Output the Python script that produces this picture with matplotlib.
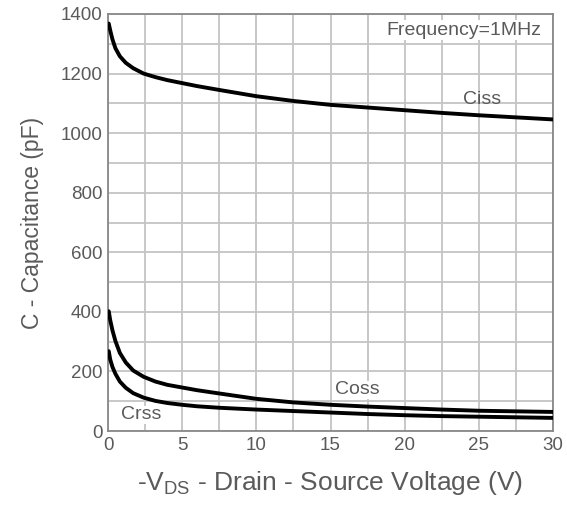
import numpy as np
import matplotlib
matplotlib.use('Agg')
import matplotlib.pyplot as plt

# values (V, pF)
vds = [0.05, 0.15, 0.3, 0.5, 0.8, 1.2, 1.7, 2.4, 3.2, 4.0, 5, 6, 7.5, 10, 12.5, 15, 17.5, 20, 22.5, 25, 27.5, 30]
ciss = [1368, 1345, 1315, 1285, 1258, 1236, 1218, 1200, 1188, 1178, 1168, 1158, 1145, 1124, 1108, 1095, 1086, 1077, 1068, 1060, 1053, 1046]
coss = [402, 372, 338, 302, 262, 230, 203, 182, 166, 155, 146, 137, 126, 108, 96, 88, 82, 77, 72, 68, 66, 64]
crss = [268, 240, 215, 192, 166, 145, 127, 112, 101, 94, 88, 83, 78, 72, 67, 62, 57, 53, 50, 48, 46, 44]

x_ticks = [0, 5, 10, 15, 20, 25, 30]
y_ticks = [0, 200, 400, 600, 800, 1000, 1200, 1400]

plt.rcParams['font.family'] = ['Liberation Sans', 'DejaVu Sans']
plt.rcParams['mathtext.fontset'] = 'custom'
plt.rcParams['mathtext.rm'] = 'Liberation Sans'

gray = '#5a5a5a'
fig = plt.figure(figsize=(5.67, 5.07), dpi=100)
ax = fig.add_axes([108 / 567, 1 - 431 / 507, 445 / 567, 417 / 507])

for y in (ciss, coss, crss):
    ax.plot(vds, y, color='black', lw=2.8, solid_capstyle='round', zorder=3)

ax.set_xlim(0, 30)
ax.set_ylim(0, 1400)
ax.set_xticks(x_ticks)
ax.set_yticks(y_ticks)
ax.set_xticks(np.arange(0, 30.1, 2.5), minor=True)
ax.set_yticks(np.arange(0, 1401, 100), minor=True)
ax.grid(True, which='both', color='#c4c4c4', lw=1.3)
ax.tick_params(which='both', length=0, labelsize=13.5, colors=gray, pad=4)
for s in ax.spines.values():
    s.set_color('#888888')
    s.set_linewidth(1.3)

ax.text(29.2, 1346, 'Frequency=1MHz', ha='right', va='center', fontsize=14, color=gray,
        bbox=dict(facecolor='white', edgecolor='none', pad=1))
ax.text(23.9, 1112, 'Ciss', va='center', fontsize=14, color=gray)
ax.text(15.3, 138, 'Coss', va='center', fontsize=14, color=gray,
        bbox=dict(facecolor='white', edgecolor='none', pad=0.3))
ax.text(0.9, 54, 'Crss', va='center', fontsize=14, color=gray,
        bbox=dict(facecolor='white', edgecolor='none', pad=0.3))

ax.set_ylabel('C - Capacitance (pF)', fontsize=16.5, color=gray, labelpad=12)
ax.set_xlabel(r'-V$_{\mathregular{DS}}$ - Drain - Source Voltage (V)', fontsize=19,
              color=gray, labelpad=11)

fig.savefig('out.png', dpi=100)
